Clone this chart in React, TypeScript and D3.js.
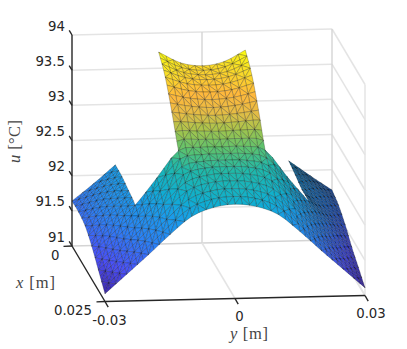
import React from "react";
import * as d3 from "d3";

const W = 407, H = 349;

// Axis ticks
const xTicks = [0, 0.025];
const yTicks = [-0.03, 0, 0.03];
const uTicks = [91, 91.5, 92, 92.5, 93, 93.5, 94];
const uTickLabels = ["91", "91.5", "92", "92.5", "93", "93.5", "94"];

// Node positions of the surface
const xNodes = [0, 0.005, 0.01, 0.015, 0.02, 0.025];
const yNodes = [-0.03, -0.025, -0.02, -0.015, -0.01, -0.005, 0, 0.005, 0.01, 0.015, 0.02, 0.025, 0.03];

// Temperature u [deg C] along each x row; null = slot in the domain
const uX0 = [91.64, 91.88, 92.14, null, 93.73, 93.57, 93.52, 93.57, 93.73, null, 92.14, 91.92, 91.71];
const uX1 = [91.64, 91.9, 92.13, null, 93.53, 93.43, 93.4, 93.43, 93.53, null, 92.1, 91.9, 91.65];
const uX2 = [91.6, 91.87, 92.09, null, 93.19, 93.15, 93.13, 93.15, 93.19, null, 92.05, 91.8, 91.53];
const uX3 = [91.47, 91.76, 92.04, 92.42, 92.8, 92.84, 92.84, 92.84, 92.78, 92.4, 92.04, 91.7, 91.37];
const uX4 = [91.29, 91.56, 91.87, 92.2, 92.5, 92.6, 92.62, 92.6, 92.5, 92.2, 91.87, 91.52, 91.24];
const uX5 = [91.11, 91.38, 91.65, 91.93, 92.18, 92.3, 92.34, 92.3, 92.18, 91.93, 91.65, 91.38, 91.11];
const uRows = [uX0, uX1, uX2, uX3, uX4, uX5];

// Colormap
const cmapStops = [0, 0.11, 0.25, 0.38, 0.47, 0.58, 0.65, 0.72, 0.78, 0.85, 0.93, 1];
const cmapColors = ["#3e26a8", "#4a50f8", "#2c80f5", "#1a9cea", "#10aed0", "#20b8aa", "#5ac270", "#a4c44c", "#e4bc46", "#ffb83c", "#f8dc28", "#fafc12"];

const fx = d3.scaleLinear().domain([0, 0.025]).range([0, 1]);
const ty = d3.scaleLinear().domain([-0.03, 0.03]).range([0, 1]);
const zu = d3.scaleLinear().domain([91, 94]).range([0, 211]);
const cu = d3.scaleLinear().domain([91.11, 93.73]).range([0, 1]);
const cm = d3.scaleLinear<string>().domain(cmapStops).range(cmapColors).clamp(true);
// The right wing sits in shade in the reference
const shadeByX = d3.scaleLinear().domain([0, 0.015, 0.025]).range([0.62, 0.8, 0.93]);
const shadeByY = d3.scaleLinear().domain([0.01, 0.02]).range([0, 1]).clamp(true);

function project(x: number, y: number, u: number): [number, number] {
  const f = fx(x), t = ty(y);
  return [72 + 33 * f + 260 * t, 246 + 55.5 * f - 6 * t - zu(u)];
}

type V = { x: number; y: number; u: number };

const cr = (p0: number, p1: number, p2: number, p3: number, s: number) =>
  p1 + 0.5 * s * (p2 - p0 + s * (2 * p0 - 5 * p1 + 4 * p2 - p3 + s * (3 * (p1 - p2) + p3 - p0)));

// 4x4 neighbourhood of a cell, missing nodes filled from the cell's own side
function patch(i: number, j: number): number[][] {
  const rows: (number[] | null)[] = [];
  for (let r = i - 1; r <= i + 2; r++) {
    const row = uRows[r];
    if (!row || row[j] === null || row[j + 1] === null) { rows.push(null); continue; }
    const a = row[j] as number, b = row[j + 1] as number;
    const l = row[j - 1], m = row[j + 2];
    rows.push([l === null || l === undefined ? 2 * a - b : l, a, b, m === null || m === undefined ? 2 * b - a : m]);
  }
  if (!rows[0]) rows[0] = rows[1]!.map((v, k) => 2 * v - rows[2]![k]);
  if (!rows[3]) rows[3] = rows[2]!.map((v, k) => 2 * v - rows[1]![k]);
  return rows as number[][];
}

function buildFaces() {
  const faces: { d: string; fill: string; depth: number }[] = [];
  const line = (p: V[]) => "M" + p.map((v) => project(v.x, v.y, v.u).map((n) => n.toFixed(2)).join(",")).join("L") + "Z";
  const addTri = (a: V, b: V, c: V) => {
    const um = (a.u + b.u + c.u) / 3;
    const col = d3.rgb(cm(cu(um)));
    const xm = (a.x + b.x + c.x) / 3, ym = (a.y + b.y + c.y) / 3;
    const k = 1 - (1 - shadeByX(xm)) * shadeByY(ym);
    const fill = d3.rgb(col.r * k, col.g * k, col.b * k).formatHex();
    const depth = 55.5 * (fx(a.x) + fx(b.x) + fx(c.x)) - 6 * (ty(a.y) + ty(b.y) + ty(c.y));
    faces.push({ d: line([a, b, c]), fill, depth });
  };
  for (let i = 0; i < xNodes.length - 1; i++) {
    for (let j = 0; j < yNodes.length - 1; j++) {
      const q = [uRows[i][j], uRows[i][j + 1], uRows[i + 1][j], uRows[i + 1][j + 1]];
      if (q.some((v) => v === null)) continue;
      const P = patch(i, j);
      const center = j >= 3 && j < 9;
      const nx = 4, ny = center ? 3 : 4;
      const at = (a: number, b: number): V => {
        const s = a / nx, r = b / ny;
        const col = P.map((row) => cr(row[0], row[1], row[2], row[3], r));
        return {
          x: xNodes[i] + s * (xNodes[i + 1] - xNodes[i]),
          y: yNodes[j] + r * (yNodes[j + 1] - yNodes[j]),
          u: cr(col[0], col[1], col[2], col[3], s),
        };
      };
      for (let a = 0; a < nx; a++) {
        for (let b = 0; b < ny; b++) {
          const p = at(a, b), q1 = at(a, b + 1), r = at(a + 1, b), s = at(a + 1, b + 1);
          if ((a + b) % 2 === 0) { addTri(p, q1, s); addTri(p, s, r); }
          else { addTri(p, q1, r); addTri(q1, s, r); }
        }
      }
    }
  }
  return faces.sort((p, q) => p.depth - q.depth);
}

const seg = (a: [number, number], b: [number, number], stroke: string, w: number, key: string) => (
  <line key={key} x1={a[0]} y1={a[1]} x2={b[0]} y2={b[1]} stroke={stroke} strokeWidth={w} />
);

export default function App() {
  const faces = buildFaces();
  const x0 = xTicks[0], x1 = xTicks[1], y0 = yTicks[0], y1 = yTicks[2];
  const u0 = uTicks[0], u1 = uTicks[uTicks.length - 1];
  const grid = "#e4e4e4", gridDark = "#d4d4d4", ink = "#262626";
  const font = "'DejaVu Sans', sans-serif";
  const serif = "'Liberation Serif', serif";
  const uLabelBase = (u: number) => project(x0, y0, u)[1] - 4.5;
  return (
    <svg width={W} height={H} style={{ position: "absolute", left: 0, top: 0, background: "#fff" }}>
      {/* back wall + side wall grid */}
      {uTicks.map((u, i) => (
        <g key={u}>
          {seg(project(x0, y0, u), project(x0, y1, u), i === 0 ? gridDark : grid, 1.5, "b" + i)}
          {seg(project(x0, y1, u), project(x1, y1, u), grid, 1.5, "s" + i)}
        </g>
      ))}
      {yTicks.slice(1).map((y) => seg(project(x0, y, u0), project(x0, y, u1), gridDark, 1.4, "v" + y))}
      {seg(project(x1, y1, u0), project(x1, y1, u1), grid, 1.5, "vr")}
      {yTicks.slice(1).map((y) => seg(project(x0, y, u0), project(x1, y, u0), grid, 1.5, "f" + y))}

      {/* surface */}
      <g strokeWidth={0.45} stroke="#000" strokeOpacity={0.5} strokeLinejoin="round">
        {faces.map((f, i) => (
          <path key={i} d={f.d} fill={f.fill} />
        ))}
      </g>

      {/* axes */}
      {seg(project(x0, y0, u0), project(x0, y0, u1), ink, 1.4, "az")}
      {seg(project(x0, y0, u0), project(x1, y0, u0), ink, 1.4, "ax")}
      {seg(project(x1, y0, u0), project(x1, y1, u0), ink, 1.4, "ay")}
      {uTicks.map((u) => {
        const p = project(x0, y0, u);
        return seg(p, [p[0] - 2.8, p[1] - 4.6], ink, 1.4, "tz" + u);
      })}
      {yTicks.map((y) => {
        const p = project(x1, y, u0);
        return seg(p, [p[0] + 3.2, p[1] + 5.6], ink, 1.4, "ty" + y);
      })}
      {xTicks.map((x) => {
        const p = project(x, y0, u0);
        return seg(p, [p[0] - 8.5, p[1] + 0.4], ink, 1.4, "tx" + x);
      })}

      {/* tick labels */}
      <g fontFamily={font} fontSize={13.3} fill={ink}>
        {uTicks.map((u, i) => (
          <text key={u} x={65} y={uLabelBase(u)} textAnchor="end">{uTickLabels[i]}</text>
        ))}
        <text x={59.5} y={260} textAnchor="end">{d3.format("d")(xTicks[0])}</text>
        <text x={92} y={315} textAnchor="end">{String(xTicks[1])}</text>
        <text x={109.5} y={325} textAnchor="middle">{String(yTicks[0])}</text>
        <text x={239.5} y={321} textAnchor="middle">{String(yTicks[1])}</text>
        <text x={371} y={318} textAnchor="middle">{String(yTicks[2])}</text>
      </g>

      {/* axis labels */}
      <g fontFamily={serif} fontSize={16.5} fill="#444">
        <text x={16} y={288} textLength={39} lengthAdjust="spacing"><tspan fontStyle="italic">x</tspan> [m]</text>
        <text x={230} y={339} textLength={38} lengthAdjust="spacing"><tspan fontStyle="italic">y</tspan> [m]</text>
        <text transform="translate(20,163) rotate(-90)" textLength={43} lengthAdjust="spacing"><tspan fontStyle="italic">u</tspan> [°C]</text>
      </g>
    </svg>
  );
}
